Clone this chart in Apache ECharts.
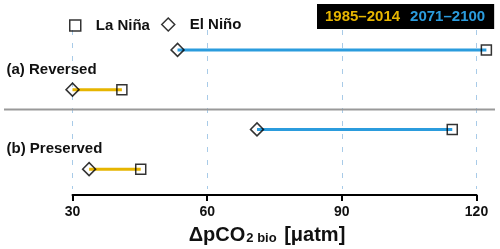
<!DOCTYPE html>
<html><head><meta charset="utf-8">
<script src="https://cdn.jsdelivr.net/npm/echarts@6/dist/echarts.min.js"></script>
<style>html,body{margin:0;padding:0;background:#fff}#c{width:500px;height:249px}</style>
</head><body><div id="c"></div>
<script>
const rows = ['(a) Reversed', '(b) Preserved'];
const periods = ['1985–2014', '2071–2100'];
const laNina1985 = [41.0, 45.2];
const elNino1985 = [30.0, 33.7];
const laNina2071 = [122.2, 114.6];
const elNino2071 = [53.4, 71.1];
const xTicks = [30, 60, 90, 120];
const periodColors = ['#E6B500', '#2B9CDD'];
const FONT = 'Liberation Sans, Arial, Helvetica, sans-serif';

const catOf = (r, p) => rows[r] + ' ' + periods[p];
const yCats = [];
rows.forEach((r, i) => { yCats.push(catOf(i, 1)); yCats.push(catOf(i, 0)); });

const laNinaVals = [laNina1985, laNina2071];
const elNinoVals = [elNino1985, elNino2071];

function segData(p) {
  return rows.map((r, i) => [elNinoVals[p][i], laNinaVals[p][i], catOf(i, p)]);
}
function pts(vals) {
  const out = [];
  rows.forEach((r, i) => { periods.forEach((pp, p) => out.push([vals[p][i], catOf(i, p)])); });
  return out;
}

const segSeries = periods.map((p, pi) => ({
  name: p, type: 'custom', z: 1, clip: false,
  dimensions: ['lo', 'hi', {name: 'row', type: 'ordinal'}],
  encode: {x: [0, 1], y: 2},
  itemStyle: {color: periodColors[pi]},
  renderItem: (params, api) => {
    const a = api.coord([api.value(0), api.value(2)]);
    const b = api.coord([api.value(1), api.value(2)]);
    return {type: 'line', shape: {x1: a[0], y1: a[1], x2: b[0], y2: b[1]},
      style: {stroke: periodColors[pi], lineWidth: 3}};
  },
  data: segData(pi)
}));

const hollow = {color: 'rgba(0,0,0,0)', borderColor: '#000', borderWidth: 1.5};

const chart = echarts.init(document.getElementById('c'));
chart.setOption({
  animation: false,
  textStyle: {fontFamily: FONT},
  grid: {left: 72.5, right: 23.5, top: 30, bottom: 60, containLabel: false, outerBoundsMode: 'none'},
  legend: [
    {data: ['La Niña'], left: 64, top: 13, selectedMode: false, itemWidth: 11, itemHeight: 11,
     itemStyle: hollow,
     textStyle: {fontFamily: FONT, fontSize: 15, fontWeight: 'bold', color: '#111', padding: [0, 0, 0, 10]}},
    {data: ['El Niño'], left: 156, top: 12, selectedMode: false, itemWidth: 13, itemHeight: 13,
     itemStyle: hollow,
     textStyle: {fontFamily: FONT, fontSize: 15, fontWeight: 'bold', color: '#111', padding: [0, 0, 0, 10]}},
    {data: periods.map((p, i) => ({name: p, textStyle: {color: periodColors[i]}})),
     left: 317, top: 4, selectedMode: false, itemWidth: 0, itemHeight: 0, itemGap: 5,
     backgroundColor: '#000', padding: [5, 9, 5, 3],
     textStyle: {fontFamily: FONT, fontSize: 15, fontWeight: 'bold'}}
  ],
  xAxis: {
    type: 'value', min: xTicks[0], max: xTicks[xTicks.length - 1], interval: 30, offset: 6,
    axisLine: {show: true, lineStyle: {color: '#000', width: 2}},
    axisTick: {show: true, length: 6, lineStyle: {color: '#000', width: 2}},
    axisLabel: {fontFamily: FONT, fontSize: 14, fontWeight: 'bold', color: '#111', margin: 10},
    splitLine: {show: true, lineStyle: {color: '#A8CBE8', width: 1, type: [5, 8]}},
    name: '{a|ΔpCO}{s|2 bio}{a| [μatm]}', nameLocation: 'middle', nameGap: 28,
    nameTextStyle: {
      padding: [0, 15, 0, 0],
      rich: {
        a: {fontFamily: FONT, fontSize: 20, fontWeight: 'bold', color: '#111', lineHeight: 22, verticalAlign: 'bottom'},
        s: {fontFamily: FONT, fontSize: 13, fontWeight: 'bold', color: '#111', lineHeight: 22, verticalAlign: 'bottom', padding: [0, 2, 0, 1]}
      }
    }
  },
  yAxis: [
    {type: 'category', data: yCats, inverse: true, show: false},
    {type: 'category', data: rows, inverse: true, position: 'left',
     axisLine: {show: false}, axisTick: {show: false}, splitLine: {show: false},
     axisLabel: {align: 'left', margin: 66, fontFamily: FONT, fontSize: 15, fontWeight: 'bold', color: '#111'}}
  ],
  series: [
    ...segSeries,
    {name: 'La Niña', type: 'scatter', z: 3, clip: false, symbol: 'rect', symbolSize: 10,
     itemStyle: hollow, data: pts(laNinaVals)},
    {name: 'El Niño', type: 'scatter', z: 3, clip: false, symbol: 'diamond', symbolSize: 13,
     itemStyle: hollow, data: pts(elNinoVals)}
  ]
});
const ya = chart.convertToPixel({yAxisIndex: 0}, yCats[1]);
const yb = chart.convertToPixel({yAxisIndex: 0}, yCats[2]);
const ym = (ya + yb) / 2;
chart.setOption({graphic: [{type: 'line', shape: {x1: 4, y1: ym, x2: 495, y2: ym},
  style: {stroke: '#999', lineWidth: 2}, z: 0}]});
</script></body></html>
